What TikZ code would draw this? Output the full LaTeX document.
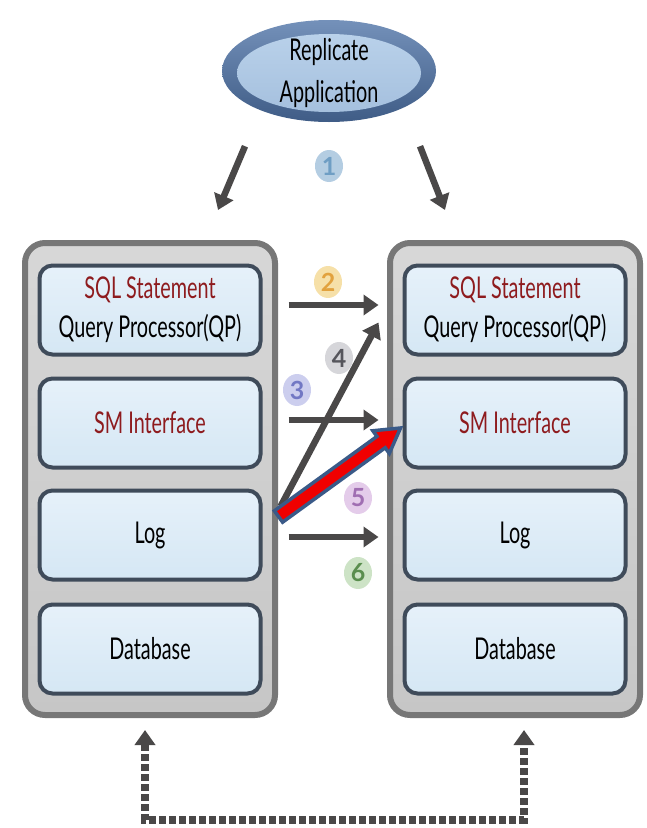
\documentclass[tikz,border=0pt]{standalone}
\usepackage{fontspec}
\setmainfont[FakeStretch=0.66]{Lato}
\newfontfamily\badgefont{Lato}
\usetikzlibrary{arrows.meta,shapes.geometric,calc}
\definecolor{colframe}{HTML}{777777}
\definecolor{colfill}{HTML}{C6C6C6}
\definecolor{boxedge}{HTML}{3F4B5A}
\definecolor{boxfill}{HTML}{D5E7F4}
\definecolor{boxfilltop}{HTML}{E6F1FA}
\definecolor{dkred}{HTML}{8E1B1E}
\definecolor{arrgray}{HTML}{4A4848}
\definecolor{redfill}{HTML}{F00000}
\definecolor{rededge}{HTML}{3A5A88}
\definecolor{ellout}{HTML}{3F5C86}
\definecolor{ellouttop}{HTML}{7491BA}
\definecolor{ellin}{HTML}{A5C0DE}
\definecolor{ellintop}{HTML}{B9D1EA}
\definecolor{bOneF}{HTML}{B4CDE2}\definecolor{bOneT}{HTML}{6F9EC4}
\definecolor{bTwoF}{HTML}{F6E0A8}\definecolor{bTwoT}{HTML}{E2A23E}
\definecolor{bThrF}{HTML}{CCCEEE}\definecolor{bThrT}{HTML}{7278C4}
\definecolor{bFouF}{HTML}{D6D6DA}\definecolor{bFouT}{HTML}{55555C}
\definecolor{bFivF}{HTML}{E4CCEA}\definecolor{bFivT}{HTML}{A06EB2}
\definecolor{bSixF}{HTML}{CDE3C6}\definecolor{bSixT}{HTML}{5A8E4E}
\tikzset{
  column/.style={rounded corners=20pt, draw=colframe, line width=6pt,
    top color=colfill!70!white, bottom color=colfill, minimum width=250pt, minimum height=472pt},
  layer/.style={rounded corners=13pt, draw=boxedge, line width=4pt,
    top color=boxfilltop, bottom color=boxfill, minimum width=221pt, minimum height=89pt,
    font=\fontsize{30}{39}\selectfont, align=center, text=black},
  grayarrow/.style={draw=arrgray, line width=6.5pt, -{Triangle[length=15pt,width=20pt]}},
  badge/.style={ellipse, minimum width=28pt, minimum height=32pt, inner sep=0pt,
    font=\badgefont\fontsize{25}{25}\selectfont\bfseries},
  dashline/.style={draw=arrgray, line width=8pt, dash pattern=on 7pt off 3pt,
    {Triangle[length=15pt,width=20pt]}-{Triangle[length=15pt,width=20pt]}},
  redarrow/.style={fill=redfill, draw=rededge, line width=3.5pt, line join=miter},
}
\begin{document}
\begin{tikzpicture}[x=1pt,y=-1pt]
\useasboundingbox (0,0) rectangle (646,828);

% application ellipse
\node[ellipse, minimum width=214pt, minimum height=102pt, inner sep=0pt,
  top color=ellouttop, bottom color=ellout] (app0) at (329,71) {};
\node[ellipse, minimum width=184pt, minimum height=78pt, inner sep=0pt,
  top color=ellintop, bottom color=ellin] (app) at (329,73) {};
\node[align=center, font=\fontsize{30}{42}\selectfont, inner sep=0pt] (apptext) at (app.center) {Replicate\\Application};

% columns
\node[column] (colL) at (150,479) {};
\node[column] (colR) at (515,479) {};

% left layers
\node[layer] (L1) at (150,310) {\textcolor{dkred}{SQL Statement}\\Query Processor(QP)};
\node[layer] (L2) at (150,423) {\textcolor{dkred}{SM Interface}};
\node[layer] (L3) at (150,535) {Log};
\node[layer] (L4) at (150,649) {Database};
% right layers
\node[layer] (R1) at (515,310) {\textcolor{dkred}{SQL Statement}\\Query Processor(QP)};
\node[layer] (R2) at (515,423) {\textcolor{dkred}{SM Interface}};
\node[layer] (R3) at (515,535) {Log};
\node[layer] (R4) at (515,649) {Database};

% arrows from application
\draw[grayarrow] ([shift={(-84,24)}]app0.south) -- ([shift={(68,-30)}]colL.north);
\draw[grayarrow] ([shift={(91,24)}]app0.south) -- ([shift={(-70,-30)}]colR.north);

% horizontal arrows
\draw[grayarrow, shorten <=26pt, shorten >=24pt] ([yshift=5pt]L1.east) -- ([yshift=5pt]R1.west);
\draw[grayarrow, shorten <=26pt, shorten >=24pt] ([yshift=3pt]L2.east) -- ([yshift=3pt]R2.west);
\draw[grayarrow, shorten <=26pt, shorten >=24pt] ([yshift=-2pt]L3.east) -- ([yshift=-2pt]R3.west);
% diagonal arrow 4
\draw[grayarrow] ([shift={(18,18)}]L3.north east) -- ([shift={(-24,-34)}]R1.south west);

% red block arrow
\coordinate (rs) at ([shift={(16,28)}]L3.north east);
\coordinate (rt) at ([shift={(-2,5)}]R2.west);
\coordinate (rb) at ($(rt)!24pt!(rs)$);
\draw[redarrow] ($(rs)!7pt!90:(rt)$) -- ($(rb)!7pt!90:(rt)$) -- ($(rb)!14pt!90:(rt)$) -- (rt)
  -- ($(rb)!14pt!-90:(rt)$) -- ($(rb)!7pt!-90:(rt)$) -- ($(rs)!7pt!-90:(rt)$) -- cycle;

% badges
\node[badge, fill=bOneF, text=bOneT] (b1) at (329,166) {1};
\node[badge, fill=bTwoF, text=bTwoT] (b2) at (328,282) {2};
\node[badge, fill=bThrF, text=bThrT] (b3) at (297,390) {3};
\node[badge, fill=bFouF, text=bFouT] (b4) at (339,358) {4};
\node[badge, fill=bFivF, text=bFivT] (b5) at (358,498) {5};
\node[badge, fill=bSixF, text=bSixT] (b6) at (358,573) {6};

% dashed feedback
\coordinate (dbot) at (334,820);
\draw[dashline] ([shift={(-5,12)}]colL.south) |- (dbot) -| ([shift={(9,12)}]colR.south);
\end{tikzpicture}
\end{document}
